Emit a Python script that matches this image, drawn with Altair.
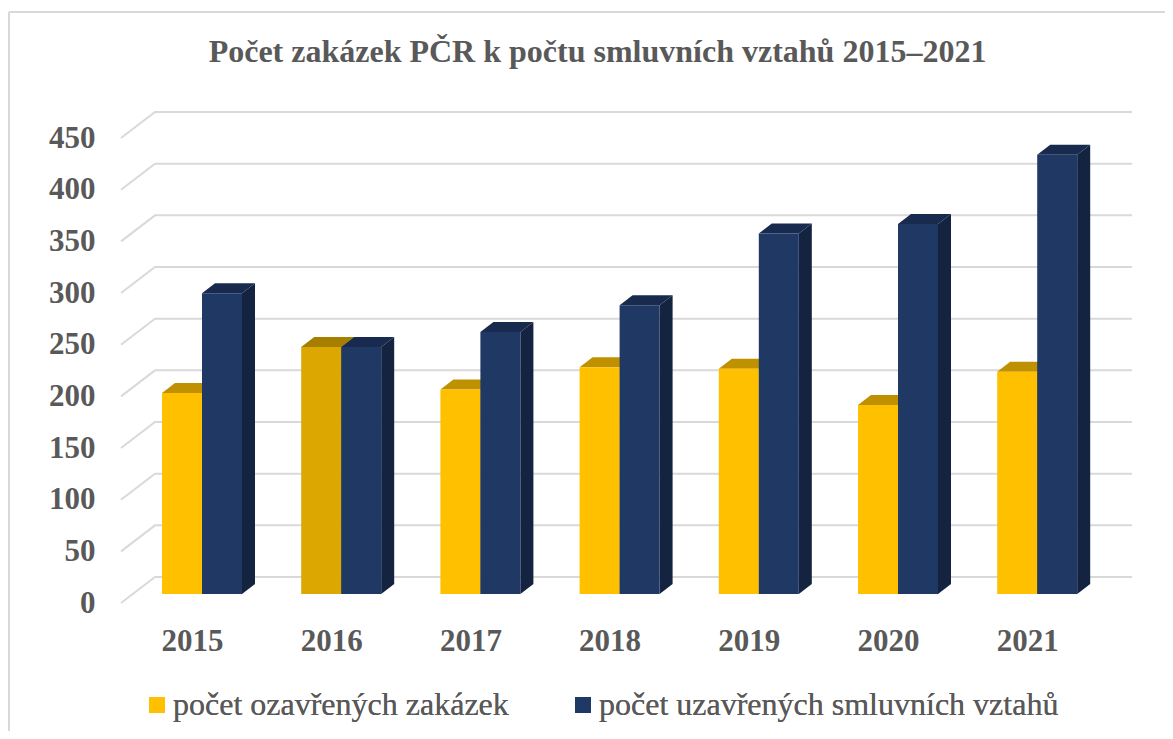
import altair as alt
import pandas as pd

years = [2015, 2016, 2017, 2018, 2019, 2020, 2021]
closed_orders = [194.5, 239, 198, 219.5, 218, 183, 215]
contracts = [291, 239, 253.5, 279.5, 349, 358, 425]
grid_values = [0, 50, 100, 150, 200, 250, 300, 350, 400, 450]

S1 = "počet ozavřených zakázek"
S2 = "počet uzavřených smluvních vztahů"
HL = "zvýrazněno"
TITLE = "Počet zakázek PČR k počtu smluvních vztahů 2015–2021"
GREY = "#595959"
FONT = "Liberation Serif"

W, H = 1157, 723
PX_X = 139.2      # px per year
PX_Y = 1.0333     # px per unit
X0 = 194          # chart px of 2015 centre
Y0 = 586          # chart px of value 0 (bar front)
BAR = 40 / PX_X
DX = 13 / PX_X
DY = 10 / PX_Y

x_scale = alt.Scale(domain=[2015 - X0 / PX_X, 2015 + (W - X0) / PX_X], nice=False, zero=False)
y_scale = alt.Scale(domain=[(Y0 - H) / PX_Y, Y0 / PX_Y], nice=False, zero=False)

front, tops, sides = [], [], []
for yr, a, b in zip(years, closed_orders, contracts):
    for val, left, ser, ftop, fside in [
        (a, yr - BAR, S1, "#BF9000", "#A67F00"),
        (b, yr, S2, "#182B4E", "#14233F"),
    ]:
        right = left + BAR
        key = f"{ser}-{yr}"
        face = HL if (yr == 2016 and ser == S1) else ser
        if face == HL:
            ftop = "#A67F00"
        front.append(dict(x=left, x2=right, y=0, y2=val, face=face, ser=ser))
        tops.append(dict(k=key, ser=ser, c=ftop, y=val, x=left, x2=right))
        tops.append(dict(k=key, ser=ser, c=ftop, y=val + DY, x=left + DX, x2=right + DX))
        sides.append(dict(k=key, ser=ser, c=fside, x=right, y=0, y2=val))
        sides.append(dict(k=key, ser=ser, c=fside, x=right + DX, y=DY, y2=val + DY))

GRID_BACK = 17 / PX_Y
GRID_FRONT = -9 / PX_Y
grid = []
for v in grid_values:
    grid.append(dict(k=v, o=0, x=2015 - 81 / PX_X, y=v + GRID_FRONT))
    grid.append(dict(k=v, o=1, x=2015 - 47 / PX_X, y=v + GRID_BACK))
    grid.append(dict(k=v, o=2, x=2015 + 930 / PX_X, y=v + GRID_BACK))

x_axis = alt.Axis(
    values=years, format="d", title=None, domain=False, ticks=False, grid=False,
    labelFont=FONT, labelFontSize=31, labelFontWeight="bold", labelColor=GREY,
    labelOffset=-10, labelPadding=0, labelBaseline="middle", offset=-(H - 633),
    labelFlush=False, labelOverlap=False,
)
y_axis = alt.Axis(
    values=grid_values, format="d", title=None, domain=False, ticks=False, grid=False,
    labelFont=FONT, labelFontSize=31, labelFontWeight="bold", labelColor=GREY,
    labelOffset=9, labelPadding=0, labelAlign="right", offset=-87,
    labelFlush=False, labelOverlap=False,
)
x_enc = alt.X("x:Q", scale=x_scale, axis=x_axis)
y_enc = alt.Y("y:Q", scale=y_scale, axis=y_axis)

frame_left = alt.Chart(pd.DataFrame({"a": [0]})).mark_rule(color="#D9D9D9", strokeWidth=2).encode(
    x=alt.value(1), y=alt.value(4), y2=alt.value(H)
)
frame_top = alt.Chart(pd.DataFrame({"a": [0]})).mark_rule(color="#D9D9D9", strokeWidth=2).encode(
    y=alt.value(4), x=alt.value(1), x2=alt.value(W)
)

grid_layer = alt.Chart(pd.DataFrame(grid)).mark_line(color="#D9D9D9", strokeWidth=2).encode(
    x=x_enc,
    y=y_enc,
    detail="k:N",
    order="o:Q",
)


def series_layers(ser):
    s = alt.Chart(pd.DataFrame([r for r in sides if r["ser"] == ser])).mark_area().encode(
        x=x_enc, y=y_enc, y2="y2:Q", color=alt.Color("c:N", scale=None), detail="k:N"
    )
    t = alt.Chart(pd.DataFrame([r for r in tops if r["ser"] == ser])).mark_area(orient="horizontal").encode(
        y=y_enc, x=x_enc, x2="x2:Q", color=alt.Color("c:N", scale=None), detail="k:N"
    )
    f = alt.Chart(pd.DataFrame([r for r in front if r["ser"] == ser])).mark_rect().encode(
        x=x_enc,
        x2="x2:Q",
        y=y_enc,
        y2="y2:Q",
        color=alt.Color(
            "face:N",
            scale=alt.Scale(domain=[S1, S2, HL], range=["#FFC000", "#1F3864", "#DBA700"]),
            legend=alt.Legend(
                values=[S1, S2], title=None, orient="none", legendX=133, legendY=681,
                direction="horizontal", columns=2, symbolType="square", symbolSize=256,
                symbolStrokeWidth=0, symbolOpacity=1, labelFont=FONT, labelFontSize=32, labelColor=GREY,
                labelOffset=0, columnPadding=58, labelLimit=600,
            ),
        ),
    )
    return [s, t, f]


chart = alt.layer(
    frame_left, frame_top, grid_layer, *series_layers(S1), *series_layers(S2)
).resolve_scale(color="independent").properties(
    width=W,
    height=H,
    padding=0,
    autosize=alt.AutoSizeParams(type="none"),
    title=alt.TitleParams(
        TITLE, font=FONT, fontSize=32, fontWeight="bold", color=GREY,
        anchor="middle", dx=11, dy=61, offset=0,
    ),
).configure_view(stroke=None).configure_legend(padding=0)

chart.save("out.html", embed_options={"renderer": "svg", "actions": False})
